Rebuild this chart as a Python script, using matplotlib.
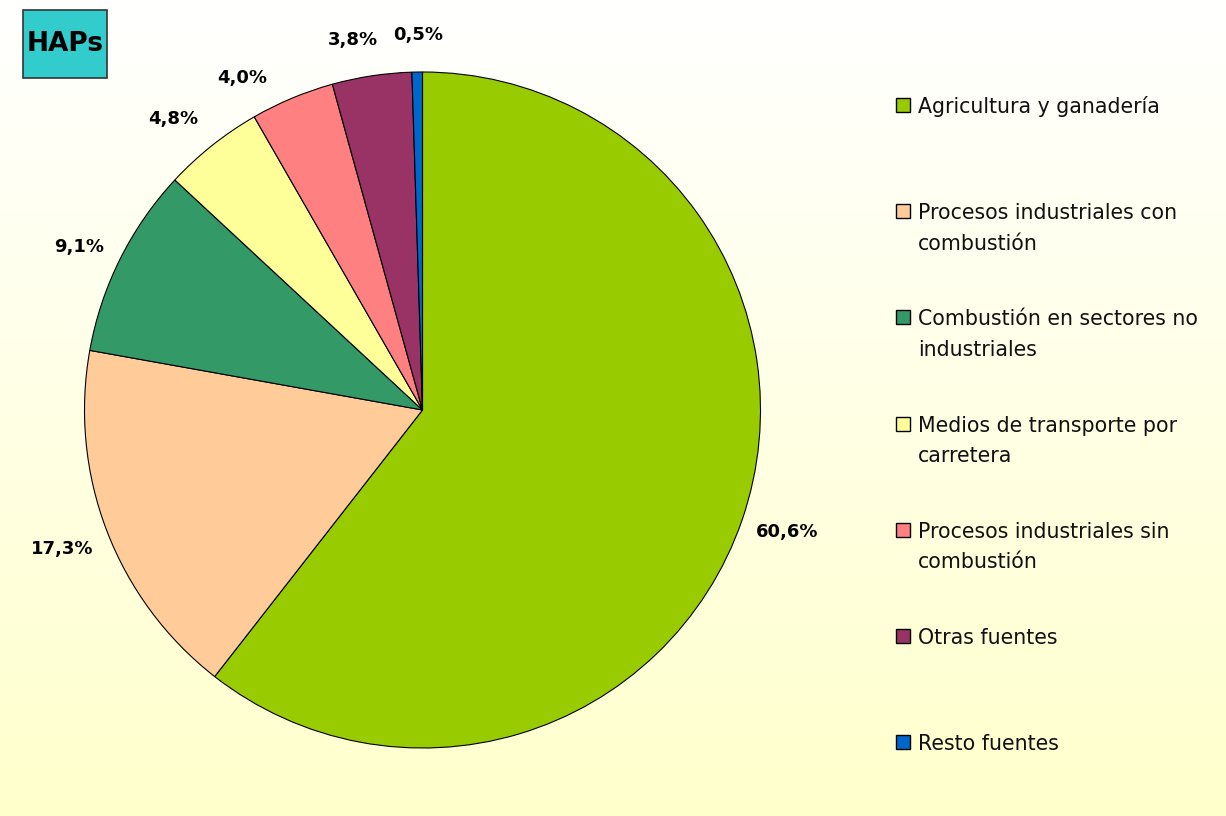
import numpy as np
import matplotlib
matplotlib.use("Agg")
import matplotlib.pyplot as plt
from matplotlib.patches import Rectangle

categories = ["Agricultura y ganadería", "Procesos industriales con\ncombustión",
              "Combustión en sectores no\nindustriales", "Medios de transporte por\ncarretera",
              "Procesos industriales sin\ncombustión", "Otras fuentes", "Resto fuentes"]
values = [60.6, 17.3, 9.1, 4.8, 4.0, 3.8, 0.5]
value_labels = ["60,6%", "17,3%", "9,1%", "4,8%", "4,0%", "3,8%", "0,5%"]
colors = ["#99CC00", "#FFCC99", "#339966", "#FFFF99", "#FF8080", "#993366", "#0066CC"]
title = "HAPs"

# label placement (layout): angular shift from wedge middle (deg) and radial factor
label_shift = [0.5, 0.1, 1.1, 2.1, 5.9, 2.0, -0.3]
label_dist = [1.138, 1.141, 1.125, 1.133, 1.118, 1.113, 1.109]

W, H = 1226, 816
fig = plt.figure(figsize=(W / 100, H / 100), dpi=100)

# gradient background
bg = fig.add_axes([0, 0, 1, 1])
grad = np.linspace(0, 1, 256).reshape(-1, 1)
top = np.array([1.0, 1.0, 1.0])
bot = np.array([1.0, 1.0, 0xCC / 255])
img = top[None, None, :] * (1 - grad[:, :, None]) + bot[None, None, :] * grad[:, :, None]
bg.imshow(img, aspect="auto", extent=[0, 1, 0, 1], origin="upper")
bg.set_axis_off()

ax = fig.add_axes([0, 0, 1, 1])
ax.patch.set_alpha(0)
cx, cy, R = 422.5, H - 410, 338
wedges, texts = ax.pie(values, labels=value_labels, colors=colors, startangle=90,
                       counterclock=False, center=(cx, cy), radius=R,
                       labeldistance=1.13,
                       wedgeprops=dict(edgecolor="black", linewidth=0.8),
                       textprops=dict(fontsize=13, fontweight="bold", family="DejaVu Sans"))
for w, t, sh, d in zip(wedges, texts, label_shift, label_dist):
    mid = np.deg2rad((w.theta1 + w.theta2) / 2 + sh)
    t.set_position((cx + d * R * np.cos(mid), cy + d * R * np.sin(mid)))
    t.set_horizontalalignment("center")
    t.set_verticalalignment("center")
ax.set_xlim(0, W)
ax.set_ylim(0, H)
ax.set_aspect("equal")
ax.set_axis_off()

# title box
ax.add_patch(Rectangle((23, H - 78), 84, 68, facecolor="#33CCCC", edgecolor="#333333", linewidth=1.2))
ax.text(65, H - 44, title, ha="center", va="center", fontsize=19, fontweight="bold",
        family="DejaVu Sans", color="black")

# legend
y0, dy, line_h = 113, 106.2, 30.5
for i, (lab, col) in enumerate(zip(categories, colors)):
    yb = y0 + i * dy
    ax.add_patch(Rectangle((896, H - yb + 1), 14, 14, facecolor=col, edgecolor="black", linewidth=1.0))
    for j, line in enumerate(lab.split("\n")):
        ax.text(918, H - yb - j * line_h, line, ha="left", va="baseline", fontsize=14.8,
                family="DejaVu Sans", color="#111111")

fig.savefig("out.png", dpi=100)
